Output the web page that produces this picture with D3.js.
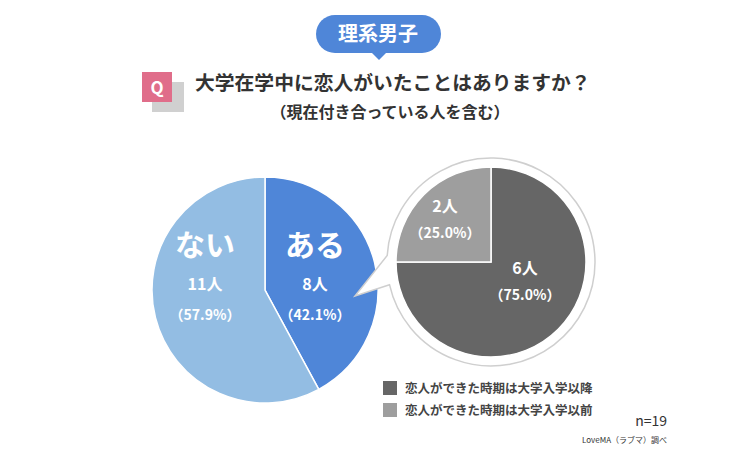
<!DOCTYPE html><html><head><meta charset="utf-8"><script src="https://cdn.jsdelivr.net/npm/d3@7"></script>
<style>body{margin:0;background:#fff}text{font-family:"Noto Sans CJK JP",sans-serif}</style></head><body><svg id="c" width="736" height="469"></svg>
<script>
const mainLabels=["ある","ない"];
const mainCounts=[8,11];
const mainPct=["42.1","57.9"];
const subLabels=["恋人ができた時期は大学入学以降","恋人ができた時期は大学入学以前"];
const subCounts=[6,2];
const subPct=["75.0","25.0"];
const svg=d3.select("#c");
svg.append("rect").attr("x",316).attr("y",15).attr("width",125).attr("height",38).attr("rx",19).attr("fill","#4f86d8");
svg.append("path").attr("d","M371,52 L379,60 L387,52Z").attr("fill","#4f86d8");
svg.append("text").attr("x",378).attr("y",41).attr("text-anchor","middle").attr("fill","#fff").attr("font-size",20).attr("font-weight",700).text("理系男子");
svg.append("rect").attr("x",152).attr("y",82).attr("width",32).attr("height",30).attr("fill","#d0d0d0");
svg.append("rect").attr("x",142).attr("y",72).attr("width",30).attr("height",30).attr("fill","#e06d8a");
svg.append("text").attr("x",157).attr("y",94).attr("text-anchor","middle").attr("fill","#fff").attr("font-size",17).attr("font-weight",700).text("Q");
svg.append("text").attr("x",195).attr("y",90).attr("fill","#333").attr("font-size",19.8).attr("font-weight",700).text("大学在学中に恋人がいたことはありますか？");
svg.append("text").attr("x",390).attr("y",118).attr("text-anchor","middle").attr("fill","#333").attr("font-size",16).attr("font-weight",700).text("（現在付き合っている人を含む）");
const pie=d3.pie().sort(null).value(d=>d);
const g=svg.append("g").attr("transform","translate(265,290)");
const arc=d3.arc().innerRadius(0).outerRadius(113);
const mcol=["#4f86d8","#93bde3"];
g.selectAll("path").data(pie(mainCounts)).join("path").attr("d",arc).attr("fill",(d,i)=>mcol[i]).attr("stroke","#fff").attr("stroke-width",1.5);
const mpos=[[50,-12],[-60,-12]];
mainLabels.forEach((l,i)=>{
 const [x,y]=mpos[i];
 g.append("text").attr("x",x).attr("y",y-22).attr("text-anchor","middle").attr("fill","#fff").attr("font-size",30).attr("font-weight",700).text(l);
 g.append("text").attr("x",x).attr("y",y+12).attr("text-anchor","middle").attr("fill","#fff").attr("font-size",16).attr("font-weight",700).text(mainCounts[i]+"人");
 g.append("text").attr("x",x).attr("y",y+42).attr("text-anchor","middle").attr("fill","#fff").attr("font-size",14).attr("font-weight",700).text("（"+mainPct[i]+"%）");
});
const bx=491,by=262,br=104;
const a1=Math.PI*0.93,a2=Math.PI*1.02;
const bub=d3.path();
bub.moveTo(bx+br*Math.cos(a2),by+br*Math.sin(a2));
bub.arc(bx,by,br,a2,a1+2*Math.PI);
bub.lineTo(355,296);bub.closePath();
svg.append("path").attr("d",bub.toString()).attr("fill","#fff").attr("stroke","#cfcfcf").attr("stroke-width",1.5);
const g2=svg.append("g").attr("transform","translate(491,262)");
const arc2=d3.arc().innerRadius(0).outerRadius(95);
const scol=["#666666","#9e9e9e"];
g2.selectAll("path").data(d3.pie().sort(null).value(d=>d)(subCounts)).join("path").attr("d",arc2).attr("fill",(d,i)=>scol[i]).attr("stroke","#fff").attr("stroke-width",1.5);
const spos=[[34,12],[-46,-50]];
subCounts.forEach((c,i)=>{
 const [x,y]=spos[i];
 g2.append("text").attr("x",x).attr("y",y).attr("text-anchor","middle").attr("fill","#fff").attr("font-size",16).attr("font-weight",700).text(c+"人");
 g2.append("text").attr("x",x).attr("y",y+26).attr("text-anchor","middle").attr("fill","#fff").attr("font-size",14).attr("font-weight",700).text("（"+subPct[i]+"%）");
});
subLabels.forEach((l,i)=>{
 svg.append("rect").attr("x",383).attr("y",381+i*22).attr("width",14).attr("height",14).attr("fill",scol[i]);
 svg.append("text").attr("x",405).attr("y",393+i*22).attr("fill","#444").attr("font-size",12.5).attr("font-weight",700).text(l);
});
svg.append("text").attr("x",667).attr("y",426).attr("text-anchor","end").attr("fill","#333").attr("font-size",14).text("n=19");
svg.append("text").attr("x",667).attr("y",443).attr("text-anchor","end").attr("fill","#333").attr("font-size",8).text("LoveMA（ラブマ）調べ");
</script></body></html>
